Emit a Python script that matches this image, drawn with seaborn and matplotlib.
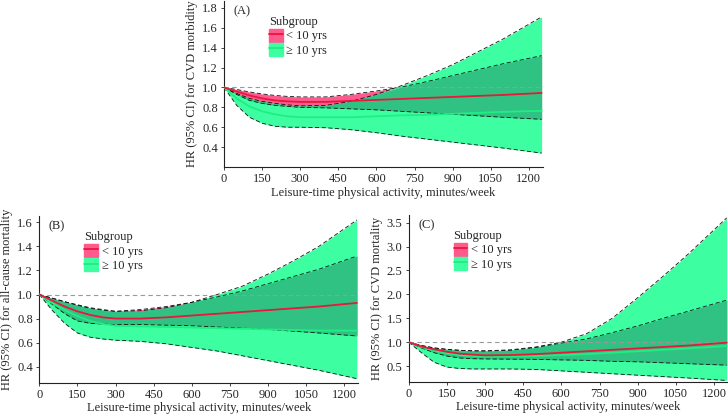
import numpy as np
import pandas as pd
import matplotlib
matplotlib.use("Agg")
import matplotlib.pyplot as plt
import seaborn as sns
from matplotlib.patches import Patch
from matplotlib.lines import Line2D

sns.set_style("ticks")
plt.rcParams["font.family"] = ["Liberation Serif", "DejaVu Serif"]

# leisure-time physical activity, minutes/week
activity = [0, 50, 100, 150, 200, 250, 300, 400, 500, 600, 700, 800, 900, 1000, 1100, 1250]

# (A) CVD morbidity
a_young_hr = [1.0, 0.96, 0.92, 0.89, 0.87, 0.86, 0.855, 0.855, 0.865, 0.875, 0.885, 0.895, 0.905, 0.915, 0.925, 0.945]
a_young_lo = [1.0, 0.93, 0.87, 0.84, 0.82, 0.81, 0.80, 0.795, 0.785, 0.775, 0.76, 0.745, 0.73, 0.715, 0.70, 0.68]
a_young_hi = [1.0, 0.98, 0.955, 0.935, 0.92, 0.91, 0.905, 0.905, 0.93, 0.965, 1.005, 1.06, 1.12, 1.18, 1.24, 1.32]
a_old_hr = [1.0, 0.89, 0.81, 0.76, 0.73, 0.71, 0.70, 0.70, 0.70, 0.71, 0.72, 0.725, 0.735, 0.745, 0.755, 0.765]
a_old_lo = [1.0, 0.82, 0.70, 0.64, 0.61, 0.60, 0.60, 0.595, 0.575, 0.545, 0.51, 0.48, 0.45, 0.42, 0.39, 0.34]
a_old_hi = [1.0, 0.94, 0.89, 0.86, 0.84, 0.825, 0.815, 0.82, 0.86, 0.93, 1.02, 1.12, 1.23, 1.36, 1.49, 1.71]

# (B) all-cause mortality
b_young_hr = [1.0, 0.95, 0.90, 0.86, 0.83, 0.81, 0.80, 0.80, 0.81, 0.825, 0.84, 0.855, 0.87, 0.885, 0.90, 0.93]
b_young_lo = [1.0, 0.92, 0.84, 0.78, 0.76, 0.755, 0.75, 0.75, 0.745, 0.74, 0.73, 0.72, 0.71, 0.695, 0.68, 0.655]
b_young_hi = [1.0, 0.97, 0.94, 0.91, 0.885, 0.87, 0.86, 0.875, 0.90, 0.935, 0.98, 1.03, 1.09, 1.15, 1.21, 1.32]
b_old_hr = [1.0, 0.93, 0.87, 0.82, 0.78, 0.755, 0.74, 0.735, 0.73, 0.725, 0.72, 0.715, 0.71, 0.705, 0.70, 0.70]
b_old_lo = [1.0, 0.87, 0.76, 0.68, 0.645, 0.63, 0.62, 0.61, 0.59, 0.56, 0.53, 0.49, 0.45, 0.41, 0.37, 0.30]
b_old_hi = [1.0, 0.97, 0.94, 0.915, 0.89, 0.875, 0.86, 0.865, 0.89, 0.935, 1.0, 1.07, 1.17, 1.28, 1.40, 1.62]

# (C) CVD mortality
c_young_hr = [1.0, 0.91, 0.85, 0.80, 0.76, 0.74, 0.725, 0.73, 0.75, 0.78, 0.81, 0.84, 0.87, 0.90, 0.93, 0.99]
c_young_lo = [1.0, 0.88, 0.78, 0.71, 0.67, 0.655, 0.65, 0.645, 0.64, 0.63, 0.62, 0.60, 0.59, 0.57, 0.55, 0.52]
c_young_hi = [1.0, 0.93, 0.88, 0.85, 0.83, 0.82, 0.815, 0.83, 0.89, 0.98, 1.07, 1.20, 1.34, 1.50, 1.65, 1.88]
c_old_hr = [1.0, 0.90, 0.82, 0.77, 0.73, 0.71, 0.70, 0.70, 0.71, 0.73, 0.75, 0.78, 0.81, 0.84, 0.87, 0.92]
c_old_lo = [1.0, 0.78, 0.58, 0.48, 0.45, 0.44, 0.44, 0.44, 0.43, 0.40, 0.37, 0.34, 0.31, 0.28, 0.25, 0.20]
c_old_hi = [1.0, 0.93, 0.88, 0.85, 0.83, 0.82, 0.82, 0.84, 0.90, 1.00, 1.18, 1.50, 1.93, 2.38, 2.85, 3.60]

groups = ["< 10 yrs", "\u2265 10 yrs"]

PINK = "#FF5A8E"
RED = "#E8173C"
GREEN = "#3DFFA2"
GREEN_LINE = "#1FEE82"
OVERLAP = "#30C283"

FS = 9


def draw_panel(ax, young, old, letter, ylabel, ylim, yticks):
    x = np.array(activity)
    y_hr, y_lo, y_hi = [np.array(v) for v in young]
    o_hr, o_lo, o_hi = [np.array(v) for v in old]

    # CI bands, overlap of the two bands in dark green
    ax.fill_between(x, y_lo, y_hi, color=PINK, lw=0, zorder=1)
    ax.fill_between(x, o_lo, o_hi, color=GREEN, lw=0, zorder=2)
    top = np.minimum(y_hi, o_hi)
    bot = np.maximum(y_lo, o_lo)
    ax.fill_between(x, bot, top, where=top > bot, interpolate=True,
                    color=OVERLAP, lw=0, zorder=3)
    for bound in [y_lo, y_hi, o_lo, o_hi]:
        ax.plot(x, bound, color="#111111", lw=0.6, ls=(0, (5, 3)), zorder=4)

    ax.axhline(1.0, color="#9a9a9a", lw=0.8, ls=(0, (4, 3)), zorder=5)

    df = pd.DataFrame({
        "activity": np.concatenate([x, x]),
        "hr": np.concatenate([o_hr, y_hr]),
        "group": [groups[1]] * len(x) + [groups[0]] * len(x),
    })
    sns.lineplot(data=df, x="activity", y="hr", hue="group",
                 palette={groups[0]: RED, groups[1]: GREEN_LINE},
                 lw=1.3, legend=False, ax=ax, zorder=6)

    ax.set_xlim(0, 1255)
    ax.set_xticks(range(0, 1201, 150))
    ax.set_ylim(*ylim)
    ax.set_yticks(yticks)
    ax.set_yticklabels([f"{t:.1f}" for t in yticks])
    ax.set_xlabel("Leisure-time physical activity, minutes/week", fontsize=FS, labelpad=1)
    ax.set_ylabel(ylabel, fontsize=FS, labelpad=3)
    ax.tick_params(labelsize=FS, length=2.5, width=0.6, pad=2)
    sns.despine(ax=ax)
    for s in ["left", "bottom"]:
        ax.spines[s].set_linewidth(0.8)
        ax.spines[s].set_color("#222222")

    ax.text(0.03, 0.975, letter, transform=ax.transAxes, fontsize=FS,
            va="top", ha="left")

    handles = [
        (Patch(facecolor=PINK, edgecolor=PINK), Line2D([], [], color=RED, lw=1.3)),
        (Patch(facecolor=GREEN, edgecolor=GREEN), Line2D([], [], color=GREEN_LINE, lw=1.3)),
    ]
    ax.legend(handles, groups, title="Subgroup", loc="upper left",
              bbox_to_anchor=(0.125, 0.94), frameon=False, fontsize=FS,
              title_fontsize=FS, handlelength=1.1, handleheight=1.25,
              handletextpad=0.3, labelspacing=0.05, borderaxespad=0,
              alignment="left")


fig = plt.figure(figsize=(7.28, 4.16), dpi=100)
ax_a = fig.add_axes([0.3077, 0.5986, 0.438, 0.399])
ax_b = fig.add_axes([0.054, 0.0805, 0.438, 0.400])
ax_c = fig.add_axes([0.5614, 0.0825, 0.4386, 0.4007])

draw_panel(ax_a, (a_young_hr, a_young_lo, a_young_hi), (a_old_hr, a_old_lo, a_old_hi),
           "(A)", "HR (95% CI) for CVD morbidity", (0.2, 1.87),
           [0.4, 0.6, 0.8, 1.0, 1.2, 1.4, 1.6, 1.8])
draw_panel(ax_b, (b_young_hr, b_young_lo, b_young_hi), (b_old_hr, b_old_lo, b_old_hi),
           "(B)", "HR (95% CI) for all-cause mortality", (0.268, 1.652),
           [0.4, 0.6, 0.8, 1.0, 1.2, 1.4, 1.6])
draw_panel(ax_c, (c_young_hr, c_young_lo, c_young_hi), (c_old_hr, c_old_lo, c_old_hi),
           "(C)", "HR (95% CI) for CVD mortality", (0.174, 3.66),
           [0.5, 1.0, 1.5, 2.0, 2.5, 3.0, 3.5])

fig.savefig("out.png", dpi=100)
